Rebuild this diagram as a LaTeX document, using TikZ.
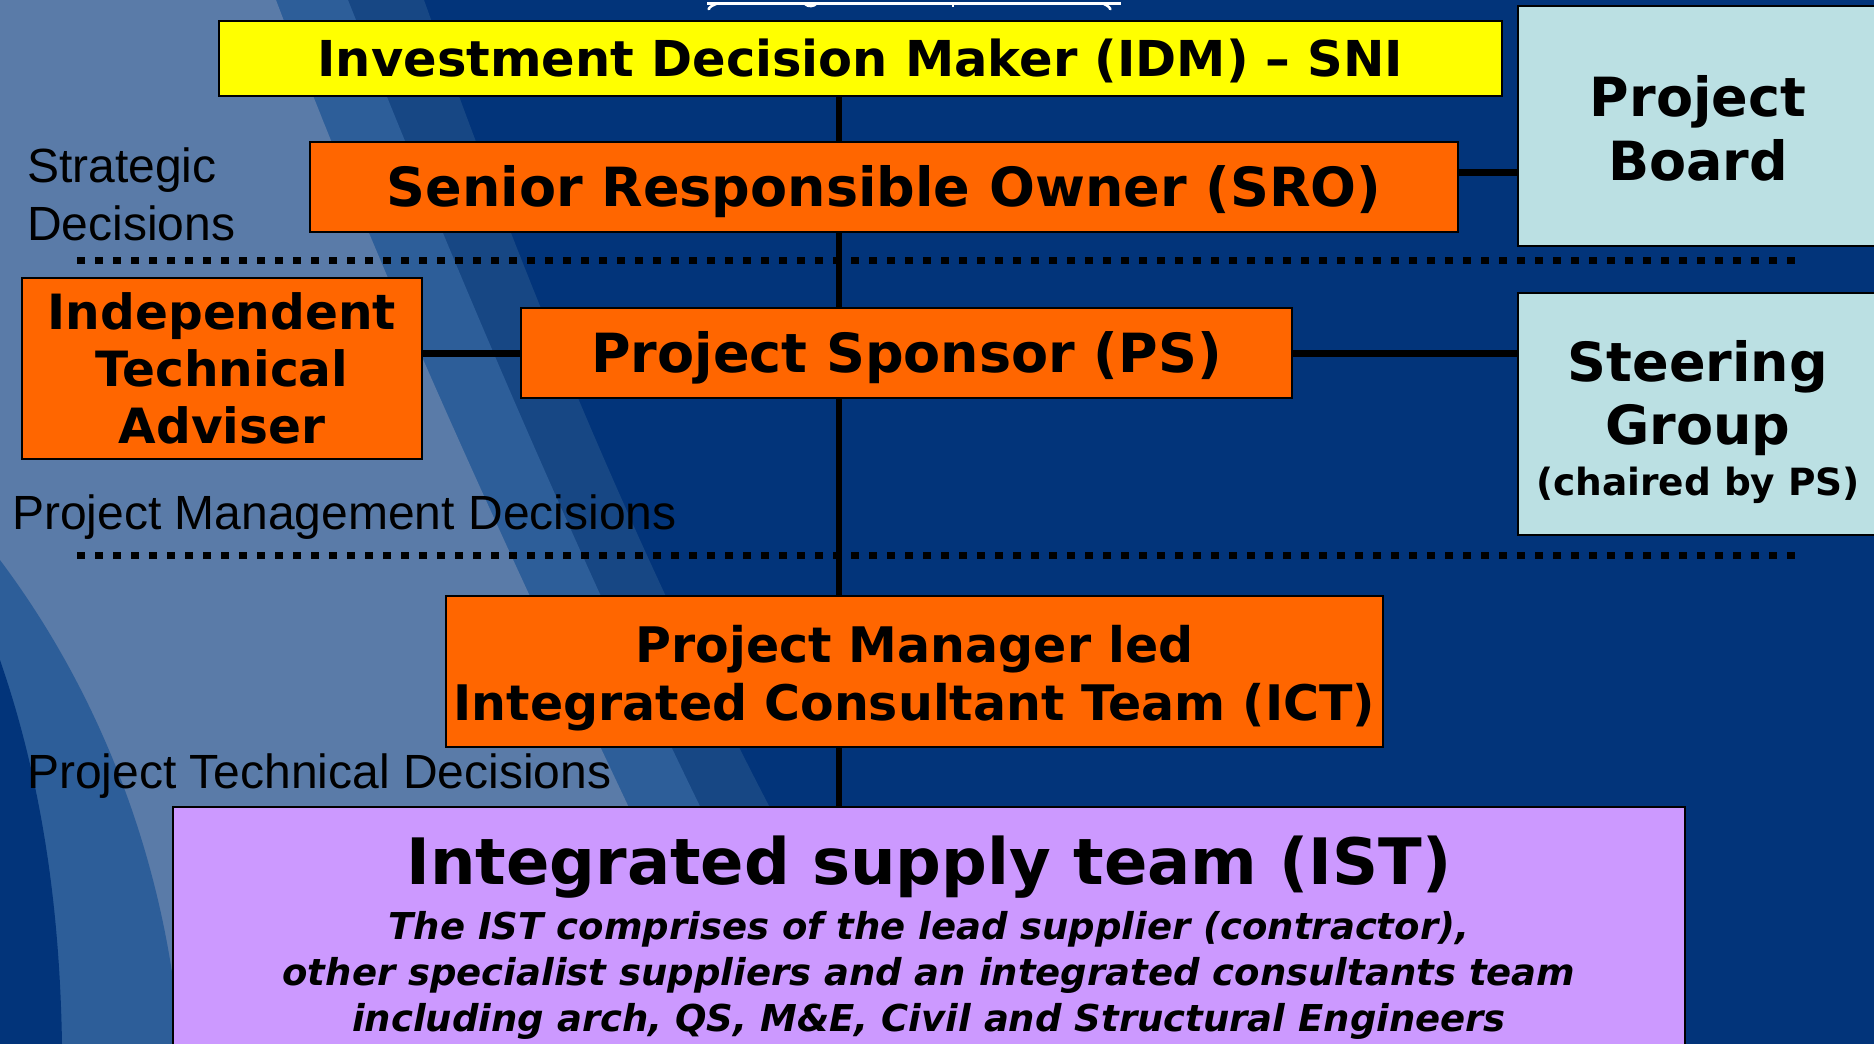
\documentclass[tikz,border=0pt]{standalone}
\usepackage{fontspec}
\setmainfont{DejaVu Sans}
\newfontfamily\decisionfont{Liberation Sans}
\newcommand\fsz[2]{\fontsize{#1pt}{#2pt}\selectfont}

\definecolor{bgdark}{HTML}{02347A}
\definecolor{bgmiddark}{HTML}{174784}
\definecolor{bgmid}{HTML}{2D5E99}
\definecolor{bglight}{HTML}{5A7BA8}
\definecolor{idmyellow}{HTML}{FFFF00}
\definecolor{roleorange}{HTML}{FF6600}
\definecolor{boardcyan}{HTML}{BBE0E3}
\definecolor{istpurple}{HTML}{CC99FF}

\pgfdeclarelayer{backdrop}
\pgfdeclarelayer{links}
\pgfsetlayers{backdrop,links,main}

% fixed text height and depth keep the letters centred in each box
\tikzset{
  role/.style={draw=black, line width=2pt, rectangle, inner sep=0pt, align=center, text depth=12pt},
  idmbox/.style={role, fill=idmyellow},
  orangebox/.style={role, fill=roleorange},
  boardbox/.style={role, fill=boardcyan},
  istbox/.style={role, fill=istpurple},
  link/.style={line width=7pt, black},
  spineline/.style={line width=6pt, black},
  divider/.style={line width=7pt, black, dash pattern=on 8pt off 10pt},
  decision/.style={inner sep=0pt, align=left, text=black, font=\decisionfont\fsz{48}{58}},
}

\begin{document}
\begin{tikzpicture}[x=1pt,y=-1pt]
\useasboundingbox (0,0) rectangle (1874,1044);
\clip (0,0) rectangle (1874,1044);

% ---------- backdrop with the swoosh on the left ----------
\begin{pgfonlayer}{backdrop}
  \fill[bgdark] (0,0) rectangle (1874,1044);
  \fill[bgmiddark] (0,0) -- (424,0) .. controls (560,380) and (700,700) .. (900,1044) -- (0,1044) -- cycle;
  \fill[bgmid] (0,0) -- (348,0) .. controls (500,380) and (640,700) .. (820,1044) -- (0,1044) -- cycle;
  \fill[bglight] (0,0) -- (276,0) .. controls (420,380) and (580,700) .. (740,1044) -- (0,1044) -- cycle;
  \fill[bgmid] (0,560) .. controls (120,720) and (170,900) .. (180,1044) -- (0,1044) -- cycle;
  \fill[bgdark] (0,660) .. controls (45,790) and (60,920) .. (62,1044) -- (0,1044) -- cycle;
\end{pgfonlayer}

% ---------- underlined heading running off the top edge ----------
\draw[white, line width=3pt] (707,3) -- (1121,3);
\draw[white, line width=2.5pt] (716,4) .. controls (711,6) and (708,8) .. (709,10);
\draw[white, line width=2.5pt] (805,4) .. controls (808,7) and (814,7) .. (817,3);
\draw[white, line width=2.5pt] (953,3) -- (953,7);
\draw[white, line width=2.5pt] (1104,4) .. controls (1108,6) and (1111,8) .. (1110,10);

% ---------- roles ----------
\node[idmbox, minimum width=1283pt, minimum height=75pt, text height=48pt, font=\bfseries\fsz{49.5}{58}]
  (idm) at (860.5,58.5) {Investment Decision Maker (IDM) – SNI};
\node[orangebox, minimum width=1148pt, minimum height=90pt, text height=51.4pt, font=\bfseries\fsz{54}{64}]
  (sro) at (884,187) {Senior Responsible Owner (SRO)};
\node[orangebox, minimum width=771pt, minimum height=90pt, text height=51.4pt, font=\bfseries\fsz{54}{64}]
  (ps) at (906.5,353) {Project Sponsor (PS)};
\node[orangebox, minimum width=400pt, minimum height=181pt, text height=161.4pt, font=\bfseries\fsz{48.6}{57}]
  (ita) at (222,368.5) {Independent\\Technical\\Adviser};
\node[orangebox, minimum width=937pt, minimum height=151pt, text height=110.7pt, font=\bfseries\fsz{49}{58}]
  (ict) at (914.5,671.5) {Project Manager led\\Integrated Consultant Team (ICT)};
\node[boardbox, minimum width=360pt, minimum height=240pt, text height=120.4pt, font=\bfseries\fsz{54}{64}]
  (pb) at (1698,126) {Project\\Board};
\node[boardbox, minimum width=360pt, minimum height=242pt, text height=175.4pt, font=\bfseries\fsz{54}{63}]
  (sg) at (1698,414) {Steering\\Group\\[-12pt]{\fsz{37.5}{50}(chaired by PS)}};
\node[istbox, minimum width=1512pt, minimum height=253pt, text height=208pt, font=\bfseries\fsz{37}{46}]
  (ist) at (929,933.5) {{\fsz{64}{70}Integrated supply team (IST)}\\[9pt]
  \itshape The IST comprises of the lead supplier (contractor),\\
  \itshape other specialist suppliers and an integrated consultants team\\
  \itshape including arch, QS, M\&E, Civil and Structural Engineers};

% ---------- decision levels ----------
\node[decision, anchor=north west] (strategic) at (27,148) {Strategic\\Decisions};
\node[decision, anchor=base west] (management) at (12,529) {Project Management Decisions};
\node[decision, anchor=base west] (technical) at (27,788) {Project Technical Decisions};

% ---------- reporting lines ----------
\coordinate (spinex) at (839,0);
\coordinate (div1w) at (77,260);
\coordinate (div1e) at (1796,260);
\coordinate (div2w) at (77,555);
\coordinate (div2e) at (1796,555);
\begin{pgfonlayer}{links}
  \draw[spineline] (idm.south -| spinex) -- (ist.north -| spinex);
  \draw[link] ([yshift=15pt]sro.east) -- ([yshift=15pt]sro.east -| pb.west);
  \draw[link] (ps.west) -- (ps.west -| ita.east);
  \draw[link] (ps.east) -- (ps.east -| sg.west);
  \draw[divider] (div1w) -- (div1e);
  \draw[divider] (div2w) -- (div2e);
\end{pgfonlayer}
\end{tikzpicture}
\end{document}
